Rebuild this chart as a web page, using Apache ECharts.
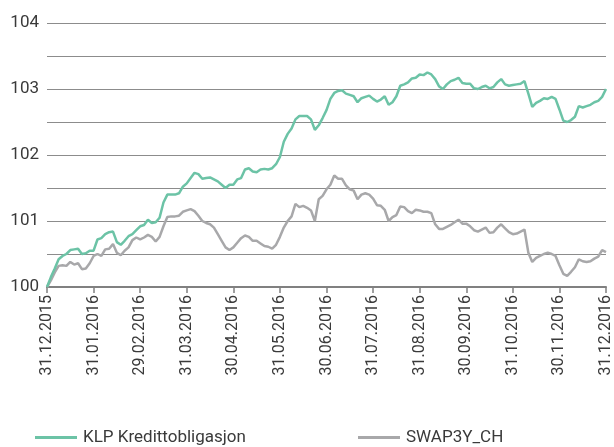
<!DOCTYPE html>
<html>
<head>
<meta charset="utf-8">
<script src="https://cdn.jsdelivr.net/npm/echarts@6/dist/echarts.min.js"></script>
<style>
    html, body { margin: 0; padding: 0; background: #fff; }
    #chart { width: 614px; height: 447px; }
</style>
</head>
<body>
<div id="chart"></div>
<script>
// month-end labels, 12 samples per month between them
var monthLabels = ['31.12.2015', '31.01.2016', '29.02.2016', '31.03.2016', '30.04.2016', '31.05.2016',
    '30.06.2016', '31.07.2016', '31.08.2016', '30.09.2016', '31.10.2016', '30.11.2016', '31.12.2016'];
var stepsPerMonth = 12;

var klpValues = [
    100, 100.15, 100.28, 100.42, 100.47, 100.5, 100.56, 100.57, 100.58, 100.5, 100.51, 100.55,
    100.55, 100.72, 100.74, 100.8, 100.83, 100.84, 100.68, 100.64, 100.7, 100.77, 100.8, 100.86,
    100.92, 100.94, 101.02, 100.97, 100.98, 101.05, 101.28, 101.4, 101.4, 101.4, 101.42, 101.52,
    101.57, 101.65, 101.73, 101.71, 101.64, 101.65, 101.66, 101.63, 101.6, 101.55, 101.5, 101.55,
    101.55, 101.63, 101.65, 101.78, 101.8, 101.75, 101.74, 101.78, 101.79, 101.78, 101.8, 101.86,
    101.97, 102.2, 102.32, 102.4, 102.54, 102.59, 102.59, 102.59, 102.54, 102.38, 102.45, 102.56,
    102.68, 102.85, 102.94, 102.97, 102.98, 102.93, 102.91, 102.89, 102.8, 102.86, 102.88, 102.9,
    102.85, 102.81, 102.84, 102.89, 102.76, 102.8, 102.89, 103.05, 103.07, 103.1, 103.16, 103.17,
    103.22, 103.21, 103.25, 103.22, 103.15, 103.04, 103.0, 103.07, 103.12, 103.14, 103.17, 103.09,
    103.08, 103.08, 103.01, 103.0, 103.03, 103.05, 103.01, 103.03, 103.1, 103.15, 103.07, 103.05,
    103.06, 103.07, 103.08, 103.12, 102.93, 102.73, 102.79, 102.82, 102.86, 102.85, 102.88, 102.85,
    102.69, 102.52, 102.5, 102.53, 102.58, 102.74, 102.72, 102.74, 102.76, 102.8, 102.82, 102.88,
    103.0
];
var swapValues = [
    100, 100.1, 100.22, 100.32, 100.33, 100.32, 100.38, 100.34, 100.36, 100.27, 100.28, 100.36,
    100.47, 100.5, 100.47, 100.57, 100.58, 100.65, 100.52, 100.48, 100.55, 100.6, 100.71, 100.75,
    100.72, 100.75, 100.79, 100.76, 100.69, 100.76, 100.92, 101.06, 101.07, 101.07, 101.08, 101.14,
    101.16, 101.18, 101.15, 101.08, 101.0, 100.97, 100.95, 100.9, 100.8, 100.7, 100.6, 100.56,
    100.6, 100.67, 100.74, 100.78, 100.76, 100.7, 100.7, 100.66, 100.62, 100.61, 100.58, 100.64,
    100.76, 100.9, 101.0, 101.07, 101.26, 101.21, 101.23, 101.2, 101.16, 101.0, 101.33, 101.38,
    101.48, 101.55, 101.69, 101.64, 101.64, 101.54, 101.48, 101.46, 101.33, 101.4, 101.42, 101.4,
    101.34, 101.24, 101.23, 101.17, 101.0, 101.06, 101.09, 101.22, 101.21, 101.15, 101.12, 101.17,
    101.16, 101.14, 101.14, 101.12, 100.95, 100.88, 100.88, 100.91, 100.94, 100.98, 101.02, 100.96,
    100.96, 100.92, 100.86, 100.84, 100.87, 100.9, 100.82, 100.83, 100.9, 100.95, 100.89, 100.83,
    100.8, 100.81, 100.84, 100.87, 100.52, 100.38, 100.44, 100.47, 100.5, 100.52, 100.5, 100.47,
    100.33, 100.2, 100.17, 100.23, 100.3, 100.42, 100.39, 100.38, 100.39, 100.43, 100.46, 100.56,
    100.53
];

function Chart() {
    this.init();
}
Chart.prototype = {
    constructor: Chart,
    init: function () {
        this.chart = echarts.init(document.getElementById('chart'));
        this.draw();
    },
    // index -> [x, y]
    toPairs: function (arr) {
        var out = [];
        for (var i = 0; i < arr.length; i++) {
            out.push([i, arr[i]]);
        }
        return out;
    },
    draw: function () {
        var that = this;
        var font = 'Roboto, "Noto Sans", sans-serif';
        var legendText = { fontFamily: font, fontSize: 17, color: '#3a3a3a', padding: [0, 0, 0, 1] };
        var option = {
            animation: false,
            grid: {
                left: 47,
                right: 6,
                top: 23,
                bottom: 160
            },
            legend: [{
                data: ['KLP Kredittobligasjon'],
                left: 30,
                top: 424,
                itemWidth: 42,
                itemHeight: 3,
                icon: 'rect',
                textStyle: legendText
            }, {
                data: ['SWAP3Y_CH'],
                left: 353,
                top: 424,
                itemWidth: 42,
                itemHeight: 3,
                icon: 'rect',
                textStyle: legendText
            }],
            xAxis: {
                type: 'value',
                min: 0,
                max: (monthLabels.length - 1) * stepsPerMonth,
                interval: stepsPerMonth,
                splitLine: { show: false },
                axisLine: { lineStyle: { color: '#808080', width: 2 } },
                axisTick: { show: true, length: 6, lineStyle: { color: '#808080', width: 1.5 } },
                axisLabel: {
                    rotate: 90,
                    margin: 8,
                    fontFamily: font,
                    fontSize: 16,
                    color: '#3a3a3a',
                    showMinLabel: true,
                    showMaxLabel: true,
                    formatter: function (v) {
                        return monthLabels[Math.round(v / stepsPerMonth)] || '';
                    }
                }
            },
            yAxis: {
                type: 'value',
                min: 100,
                max: 104,
                interval: 0.5,
                axisLine: { show: false },
                axisTick: { show: false },
                axisLabel: {
                    margin: 8,
                    fontFamily: font,
                    fontSize: 17,
                    color: '#3a3a3a',
                    formatter: function (v) {
                        return v % 1 === 0 ? String(v) : '';
                    }
                },
                splitLine: { lineStyle: { color: '#8c8c8c', width: 1.2 } }
            },
            series: [{
                name: 'SWAP3Y_CH',
                type: 'line',
                showSymbol: false,
                z: 2,
                lineStyle: { color: '#a8a8aa', width: 2.5 },
                itemStyle: { color: '#a8a8aa' },
                data: that.toPairs(swapValues)
            }, {
                name: 'KLP Kredittobligasjon',
                type: 'line',
                showSymbol: false,
                z: 3,
                lineStyle: { color: '#6cc3a6', width: 2.5 },
                itemStyle: { color: '#6cc3a6' },
                data: that.toPairs(klpValues)
            }]
        };
        that.chart.setOption(option);
    }
};

var chartIns = new Chart();
</script>
</body>
</html>
